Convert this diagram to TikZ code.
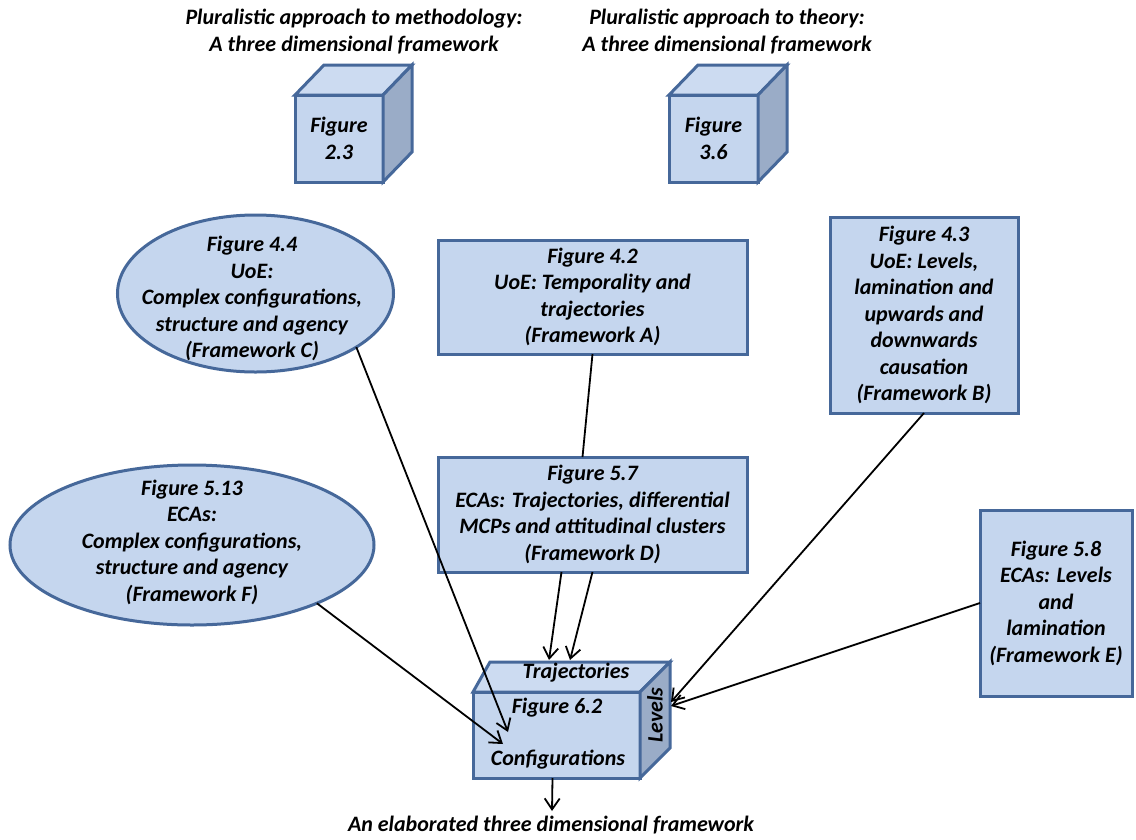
\documentclass[tikz,border=0pt]{standalone}
\usepackage{fontspec}
\setmainfont{Carlito}
\usetikzlibrary{shapes.geometric,arrows.meta,calc}
\definecolor{boxfill}{HTML}{C5D6EE}
\definecolor{boxline}{HTML}{46689A}
\definecolor{sidefill}{HTML}{9AACC7}
\definecolor{topfill}{HTML}{CCDBF1}

\begin{document}
\begin{tikzpicture}[x=1pt,y=-1pt,
  txt/.style={font=\fontsize{22}{26.5}\selectfont\bfseries\itshape, align=center, inner sep=0pt},
  frame/.style={draw=boxline, line width=3pt, fill=boxfill},
  boxnode/.style={frame, rectangle, inner sep=0pt, outer sep=0pt, txt},
  ellnode/.style={frame, ellipse, inner sep=0pt, outer sep=0pt},
  topface/.style={draw=boxline, line width=3pt, fill=topfill},
  sideface/.style={draw=boxline, line width=3pt, fill=sidefill},
  conn/.style={line width=1.8pt, black},
  arr/.style={conn, -{Straight Barb[length=11pt,width=15pt,line width=1.8pt]}},
]
\fill[white] (0,0) rectangle (1136,839);
\useasboundingbox (0,0) rectangle (1136,839);

% headings above the two reference cubes
\node[txt] (t1) at (354,31.5) {Pluralistic approach to methodology:\\A three dimensional framework};
\node[txt] (t2) at (727,31.5) {Pluralistic approach to theory:\\A three dimensional framework};

% cube: Figure 2.3
\node[boxnode, minimum width=88pt, minimum height=87pt] (k1) at (339,138.5) {Figure\\2.3};
\draw[topface] (k1.north west) -- ++(29,-30) -- ++(88,0) -- (k1.north east) -- cycle;
\draw[sideface] (k1.north east) -- ++(29,-30) -- ++(0,87) -- (k1.south east) -- cycle;

% cube: Figure 3.6
\node[boxnode, minimum width=89pt, minimum height=87pt] (k2) at (713.5,138.5) {Figure\\3.6};
\draw[topface] (k2.north west) -- ++(29,-30) -- ++(89,0) -- (k2.north east) -- cycle;
\draw[sideface] (k2.north east) -- ++(29,-30) -- ++(0,87) -- (k2.south east) -- cycle;

% frameworks
\node[ellnode, minimum width=276pt, minimum height=157pt] (e44) at (255.5,293.5) {};
\node[txt] (e44t) at (252,298.5) {Figure 4.4\\UoE:\\Complex configurations,\\structure and agency\\(Framework C)};

\node[boxnode, minimum width=309pt, minimum height=114pt] (b42) at (592.5,297)
  {Figure 4.2\\UoE: Temporality and\\trajectories\\(Framework A)};

\node[boxnode, minimum width=188pt, minimum height=196pt] (b43) at (924,315)
  {Figure 4.3\\UoE: Levels,\\lamination and\\upwards and\\downwards\\causation\\(Framework B)};

\node[boxnode, minimum width=309pt, minimum height=115pt] (b57) at (592.5,514.5)
  {Figure 5.7\\ECAs: Trajectories, differential\\MCPs and attitudinal clusters\\(Framework D)};

\node[ellnode, minimum width=364pt, minimum height=160pt] (e513) at (192,545) {};
\node[txt] (e513t) at (192,542) {Figure 5.13\\ECAs:\\Complex configurations,\\structure and agency\\(Framework F)};

\node[boxnode, minimum width=152pt, minimum height=186pt] (b58) at (1056,603)
  {Figure 5.8\\ECAs: Levels\\and\\lamination\\(Framework E)};

% cube: Figure 6.2
\node[frame, rectangle, inner sep=0pt, outer sep=0pt, minimum width=167pt, minimum height=86pt] (c62) at (556.5,735) {};
\draw[topface] (c62.north west) -- ++(17,-30) -- ++(180,0) -- (c62.north east) -- cycle;
\draw[sideface] (c62.north east) -- ++(30,-30) -- ++(0,86) -- (c62.south east) -- cycle;
\node[txt] (c62top) at (576,673) {Trajectories};
\node[txt] (c62fig) at (557,708) {Figure 6.2};
\node[txt] (c62cfg) at (558,760) {Configurations};
\node[txt, rotate=90] (c62lev) at (655,715) {Levels};

\node[txt] (fin) at (551,825) {An elaborated three dimensional framework};

% arrow ends on the cube
\coordinate (tipA) at (508,732);
\coordinate (tipF) at (503,744);
\coordinate (tipD1) at (549,660);
\coordinate (tipD2) at (570,660);
\coordinate (tipB) at (671,702);
\coordinate (tipE) at (671,706);
\coordinate (outtip) at (552,811);

% connectors
\draw[arr] (e44.-28) -- (tipA);
\draw[arr] (e513.-25) -- (tipF);
\draw[conn] (b42.south) -- ($(b57.north)+(-10,0)$);
\draw[arr] ($(b57.south)+(-31,0)$) -- (tipD1);
\draw[arr] (b57.south) -- (tipD2);
\draw[arr] (b43.south) -- (tipB);
\draw[arr] (b58.west) -- (tipE);
\draw[arr] ($(c62.south)+(-4,0)$) -- (outtip);
\end{tikzpicture}
\end{document}
